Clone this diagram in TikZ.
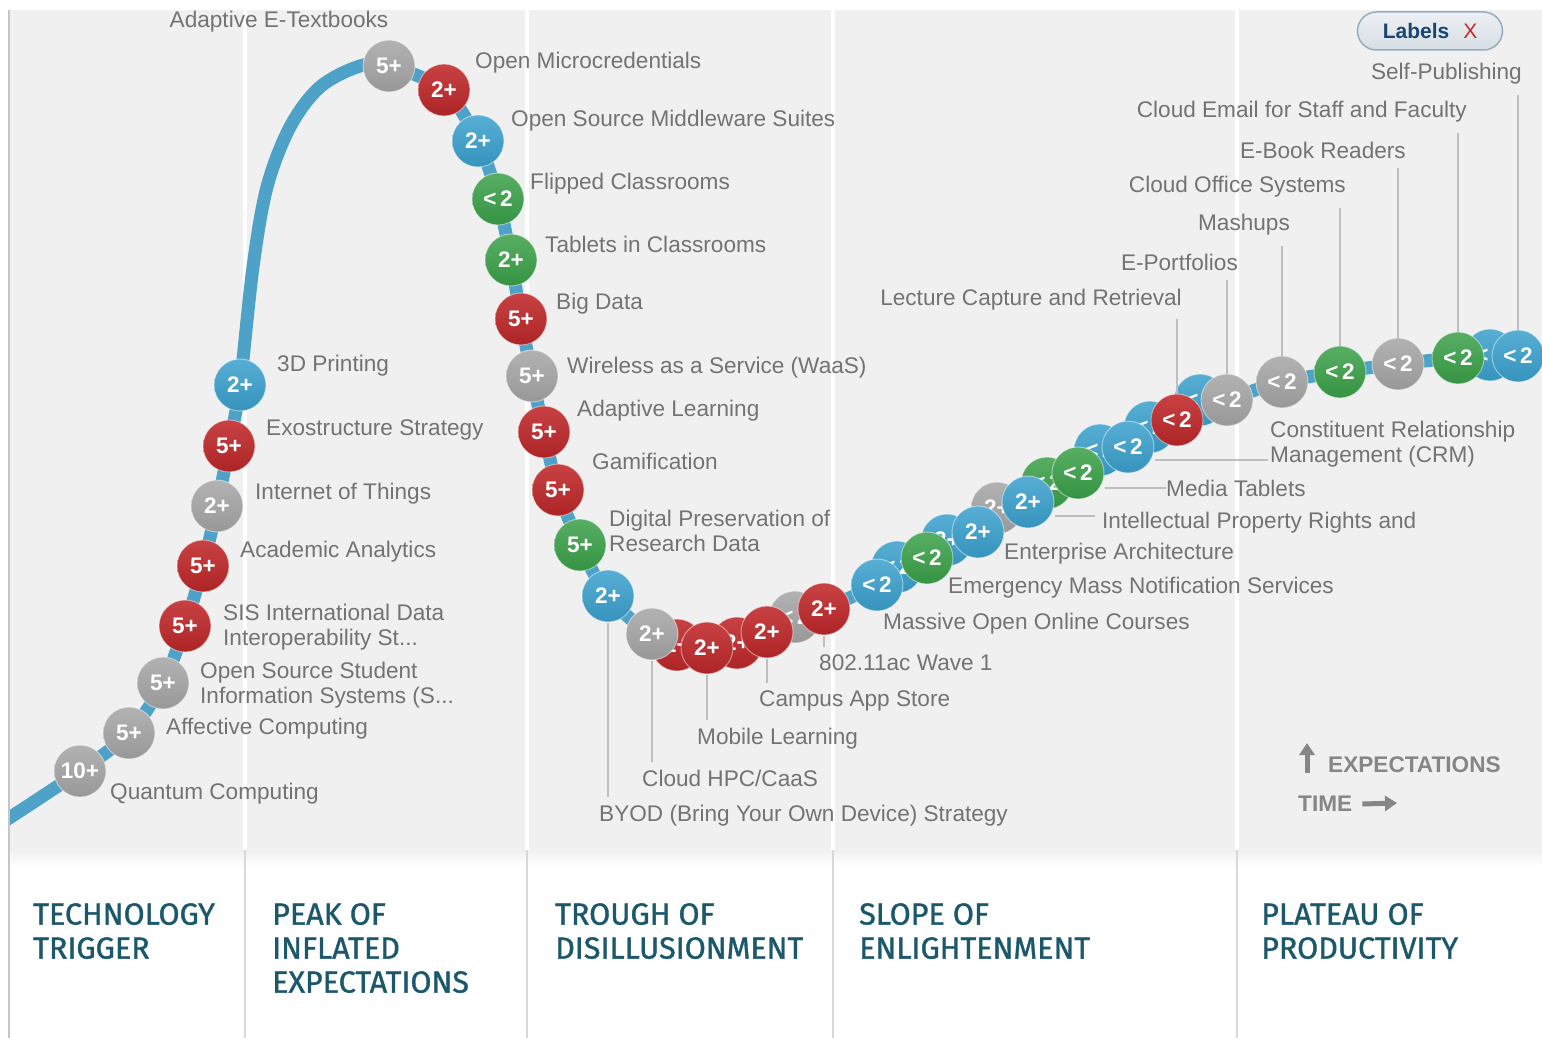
\documentclass[tikz,border=0pt]{standalone}
\usepackage{fontspec}
\setmainfont{Liberation Sans}
\newfontfamily\phasefont{Fira Sans}[FakeBold=1.2]
\usetikzlibrary{arrows.meta,positioning,calc}
\definecolor{chartbg}{RGB}{240,240,240}
\definecolor{curvecol}{RGB}{78,162,200}
\definecolor{labelgray}{RGB}{115,115,115}
\definecolor{leadgray}{RGB}{190,190,190}
\definecolor{phasecol}{RGB}{28,88,108}
\definecolor{gbub}{RGB}{165,165,165}
\definecolor{rbub}{RGB}{192,40,42}
\definecolor{bbub}{RGB}{58,160,205}
\definecolor{vbub}{RGB}{58,160,72}
\definecolor{btnblue}{RGB}{25,70,110}
\definecolor{xred}{RGB}{200,40,40}
\tikzset{
  bubble/.style={circle, minimum size=52pt, inner sep=0pt, draw=white, draw opacity=0.45,
    line width=1pt, text=white, font=\fontsize{22.5}{22}\selectfont\bfseries},
  bgray/.style={bubble, top color=gbub!85!white, bottom color=gbub!92!black},
  bred/.style={bubble, top color=rbub!88!white, bottom color=rbub!90!black},
  bblue/.style={bubble, top color=bbub!85!white, bottom color=bbub!92!black},
  bgreen/.style={bubble, top color=vbub!85!white, bottom color=vbub!92!black},
  lbl/.style={text=labelgray, font=\fontsize{22.6}{25}\selectfont, inner sep=0pt, align=left},
  lblw/.style={lbl, anchor=west},
  lble/.style={lbl, anchor=east},
  leader/.style={draw=leadgray, line width=2pt},
  phase/.style={anchor=north west, align=left, inner sep=0pt, text=phasecol,
    font=\phasefont\fontsize{30.5}{34}\selectfont},
  legend/.style={anchor=west, inner sep=0pt, text=gray!95!white, font=\fontsize{22.6}{24}\selectfont\bfseries},
  legarrow/.style={draw=gray!95!white, line width=5pt, -{Triangle[length=12pt,width=15pt]}},
  btn/.style={rounded corners=19pt, minimum width=145pt, minimum height=38pt, draw=btnblue!45!white,
    line width=1.5pt, top color=white!92!btnblue, bottom color=white!82!btnblue}
}
\begin{document}
\begin{tikzpicture}[x=1pt,y=-1pt]
  \useasboundingbox (0,0) rectangle (1542,1038);
  \fill[white] (0,0) rectangle (1542,1038);
  \fill[chartbg] (8,10) rectangle (1542,850);
  \shade[top color=chartbg, bottom color=white] (8,850) rectangle (1542,866);
  \foreach \sx in {245,527,833,1237} {
    \draw[white, line width=4pt] (\sx,10) -- (\sx,850);
    \draw[leadgray!60!white, line width=1.2pt] (\sx,850) -- (\sx,1038);
  }

  % hype curve
  \draw[curvecol, line width=13pt] plot[smooth, tension=0.55] coordinates {
    (0,824) (80,771) (129,733) (163,683) (185,626) (203,566) (217,506) (229,446) (240,385)
    (253,267) (267,187) (290,127) (320,87) (360,66) (389,66) (444,90) (478,141) (498,199)
    (511,260) (521,319) (532,376) (544,432) (558,490) (580,545) (608,596) (652,634)
    (707,648) (767,632) (824,609) (877,585) (927,558) (978,532) (1028,502) (1078,473)
    (1128,447) (1177,420) (1227,400) (1282,382) (1340,372) (1398,364) (1458,358) (1518,356) (1550,355)};
  \fill[white] (0,0) rectangle (8,1038);
  \draw[gray!45!white, line width=2pt] (9,10) -- (9,1038);

  % bubbles partly hidden
  \node[bred] (h1) at (677,645) {2+};
  \node[bred] (h2) at (737,643) {2+};
  \node[bgray] (h3) at (795,617) {<\,2};
  \node[bblue] (h4) at (897,567) {<\,2};
  \node[bblue] (h5) at (947,540) {2+};
  \node[bgray] (h6) at (997,508) {2+};
  \node[bgreen] (h7) at (1047,483) {<\,2};
  \node[bblue] (h8) at (1100,450) {<\,2};
  \node[bblue] (h9) at (1150,427) {<\,2};
  \node[bblue] (h10) at (1200,400) {<\,2};
  \node[bblue] (h11) at (1490,355) {<\,2};

  % technology trigger and peak
  \node[bgray] (qc) at (80,771) {10+};
  \node[bgray] (ac) at (129,733) {5+};
  \node[bgray] (oss) at (163,683) {5+};
  \node[bred] (sis) at (185,626) {5+};
  \node[bred] (aa) at (203,566) {5+};
  \node[bgray] (iot) at (217,506) {2+};
  \node[bred] (exo) at (229,446) {5+};
  \node[bblue] (tdp) at (240,385) {2+};
  \node[bgray] (aet) at (389,66) {5+};
  \node[bred] (omc) at (444,90) {2+};
  \node[bblue] (osm) at (478,141) {2+};
  \node[bgreen] (fc) at (498,199) {<\,2};
  \node[bgreen] (tic) at (511,260) {2+};
  \node[bred] (bd) at (521,319) {5+};
  \node[bgray] (waas) at (532,376) {5+};
  \node[bred] (al) at (544,432) {5+};
  \node[bred] (gam) at (558,490) {5+};
  \node[bgreen] (dpr) at (580,545) {5+};

  % trough
  \node[bblue] (byod) at (608,596) {2+};
  \node[bgray] (hpc) at (652,634) {2+};
  \node[bred] (ml) at (707,648) {2+};
  \node[bred] (cas) at (767,632) {2+};
  \node[bred] (wave) at (824,609) {2+};

  % slope and plateau
  \node[bblue] (mooc) at (877,585) {<\,2};
  \node[bgreen] (emn) at (927,558) {<\,2};
  \node[bblue] (ea) at (978,532) {2+};
  \node[bblue] (ipr) at (1028,502) {2+};
  \node[bgreen] (mt) at (1078,473) {<\,2};
  \node[bblue] (crm) at (1128,447) {<\,2};
  \node[bred] (lcr) at (1177,420) {<\,2};
  \node[bgray] (ep) at (1227,400) {<\,2};
  \node[bgray] (mash) at (1282,382) {<\,2};
  \node[bgreen] (cos) at (1340,372) {<\,2};
  \node[bgray] (ebr) at (1398,364) {<\,2};
  \node[bgreen] (ce) at (1458,358) {<\,2};
  \node[bblue] (sp) at (1518,356) {<\,2};

  % labels
  \node[lblw] (qc-l) at (110,794) {Quantum Computing};
  \node[lblw] (ac-l) at (166,729) {Affective Computing};
  \node[lblw] (oss-l) at (200,685) {Open Source Student\\Information Systems (S...};
  \node[lblw] (sis-l) at (223,627) {SIS International Data\\Interoperability St...};
  \node[lblw] (aa-l) at (240,552) {Academic Analytics};
  \node[lblw] (iot-l) at (255,494) {Internet of Things};
  \node[lblw] (exo-l) at (266,430) {Exostructure Strategy};
  \node[lblw] (tdp-l) at (277,366) {3D Printing};
  \node[lbl] (aet-l) at (279,22) {Adaptive E-Textbooks};
  \node[lblw] (omc-l) at (475,63) {Open Microcredentials};
  \node[lblw] (osm-l) at (511,121) {Open Source Middleware Suites};
  \node[lblw] (fc-l) at (530,184) {Flipped Classrooms};
  \node[lblw] (tic-l) at (545,244) {Tablets in Classrooms};
  \node[lblw] (bd-l) at (556,304) {Big Data};
  \node[lblw] (waas-l) at (567,368) {Wireless as a Service (WaaS)};
  \node[lblw] (al-l) at (577,411) {Adaptive Learning};
  \node[lblw] (gam-l) at (592,461) {Gamification};
  \node[lblw] (dpr-l) at (609,531) {Digital Preservation of\\Research Data};
  \node[lblw] (byod-l) at (599,816) {BYOD (Bring Your Own Device) Strategy};
  \node[lblw] (hpc-l) at (642,778) {Cloud HPC/CaaS};
  \node[lblw] (ml-l) at (697,739) {Mobile Learning};
  \node[lblw] (cas-l) at (759,701) {Campus App Store};
  \node[lblw] (wave-l) at (819,663) {802.11ac Wave 1};
  \node[lblw] (mooc-l) at (883,624) {Massive Open Online Courses};
  \node[lblw] (emn-l) at (948,588) {Emergency Mass Notification Services};
  \node[lblw] (ea-l) at (1004,554) {Enterprise Architecture};
  \node[lblw] (ipr-l) at (1102,523) {Intellectual Property Rights and};
  \node[lblw] (mt-l) at (1166,488) {Media Tablets};
  \node[lblw] (crm-l) at (1270,444) {Constituent Relationship\\Management (CRM)};
  \node[lble] (lcr-l) at (1182,300) {Lecture Capture and Retrieval};
  \node[lble] (ep-l) at (1238,262) {E-Portfolios};
  \node[lble] (mash-l) at (1290,225) {Mashups};
  \node[lble] (cos-l) at (1346,187) {Cloud Office Systems};
  \node[lble] (ebr-l) at (1406,150) {E-Book Readers};
  \node[lble] (ce-l) at (1467,112) {Cloud Email for Staff and Faculty};
  \node[lble] (sp-l) at (1522,74) {Self-Publishing};

  % leader lines
  \coordinate (ipr-c) at (1095,516);
  \coordinate (crm-c) at (1268,460);
  \draw[leader, shorten >=8pt] (byod.south) -- (byod.south |- byod-l.north);
  \draw[leader, shorten >=8pt] (hpc.south) -- (hpc.south |- hpc-l.north);
  \draw[leader, shorten >=8pt] (ml.south) -- (ml.south |- ml-l.north);
  \draw[leader, shorten >=8pt] (cas.south) -- (cas.south |- cas-l.north);
  \draw[leader, shorten >=8pt] (wave.south) -- (wave.south |- wave-l.north);
  \draw[leader] (ipr.east |- ipr-c) -- (ipr-c);
  \draw[leader] (mt.east |- mt-l.west) -- (mt-l.west);
  \draw[leader] (crm.east |- crm-c) -- (crm-c);
  \draw[leader, shorten >=8pt] (lcr.north) -- (lcr.north |- lcr-l.south);
  \draw[leader, shorten >=10pt] (ep.north) -- (ep.north |- ep-l.south);
  \draw[leader, shorten >=10pt] (mash.north) -- (mash.north |- mash-l.south);
  \draw[leader, shorten >=10pt] (cos.north) -- (cos.north |- cos-l.south);
  \draw[leader, shorten >=10pt] (ebr.north) -- (ebr.north |- ebr-l.south);
  \draw[leader, shorten >=10pt] (ce.north) -- (ce.north |- ce-l.south);
  \draw[leader, shorten >=10pt] (sp.north) -- (sp.north |- sp-l.south);

  % labels toggle
  \node[btn] (btn) at (1430,31) {\fontsize{21}{21}\selectfont\textbf{\textcolor{btnblue}{Labels}}\hspace{14pt}\textcolor{xred}{X}};

  % axes legend
  \node[legend] (exp) at (1328,765) {EXPECTATIONS};
  \node[legend] (time) at (1298,804) {TIME};
  \coordinate (exp-up) at (1307,743);
  \coordinate (time-end) at (1397,803);
  \draw[legarrow] (exp-up |- exp.south) -- (exp-up);
  \draw[legarrow] ([xshift=10pt]time.east) -- (time-end);

  % phases
  \node[phase] (trig) at (33,903) {TECHNOLOGY\\TRIGGER};
  \node[phase] (peak) at (272,903) {PEAK OF\\INFLATED\\EXPECTATIONS};
  \node[phase] (trough) at (555,903) {TROUGH OF\\DISILLUSIONMENT};
  \node[phase] (slope) at (859,903) {SLOPE OF\\ENLIGHTENMENT};
  \node[phase] (plat) at (1261,903) {PLATEAU OF\\PRODUCTIVITY};
\end{tikzpicture}
\end{document}
